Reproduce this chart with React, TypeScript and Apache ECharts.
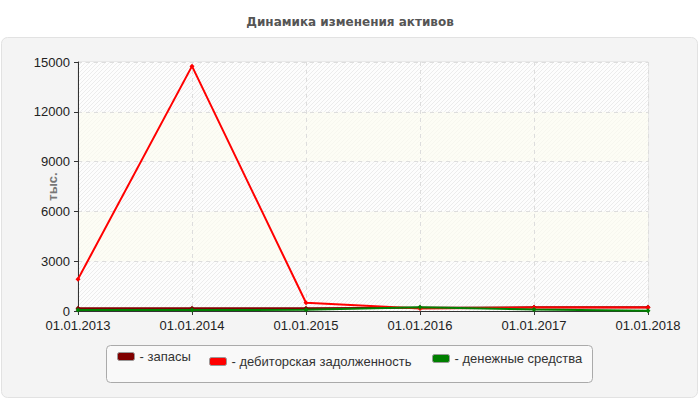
import React, { useEffect, useRef } from 'react';
import * as echarts from 'echarts';

// Dates on the x axis
const dates = ['01.01.2013', '01.01.2014', '01.01.2015', '01.01.2016', '01.01.2017', '01.01.2018'];

// Values, thousands
const zapasy = [170, 170, 170, 200, 220, 230];
const debitorka = [1920, 14750, 500, 150, 210, 210];
const dengi = [60, 60, 70, 230, 90, 10];

const seriesNames = ['запасы', 'дебиторская задолженность', 'денежные средства'];
const seriesColors = ['#800000', '#ff0000', '#008000'];

// Diagonal hatch used for the plot bands
function makeHatch(base: string, line: string) {
  const c = document.createElement('canvas');
  c.width = 4;
  c.height = 4;
  const ctx = c.getContext('2d')!;
  ctx.fillStyle = base;
  ctx.fillRect(0, 0, 4, 4);
  ctx.strokeStyle = line;
  ctx.lineWidth = 1;
  ctx.beginPath();
  ctx.moveTo(0, 4);
  ctx.lineTo(4, 0);
  ctx.moveTo(-1, 1);
  ctx.lineTo(1, -1);
  ctx.moveTo(3, 5);
  ctx.lineTo(5, 3);
  ctx.stroke();
  return { image: c, repeat: 'repeat' };
}

export default function App() {
  const chartRef = useRef<HTMLDivElement>(null);

  useEffect(() => {
    if (!chartRef.current) return;
    const chart = echarts.init(chartRef.current, undefined, { renderer: 'svg' });

    const hatch = makeHatch('#fdfdfd', '#ececec');
    const yellow = makeHatch('#fdfdf5', '#f7f7ef');

    const legendAt = (name: string, left: number, top: number) => ({
      data: [name],
      left,
      top,
      padding: 0,
      icon: 'roundRect',
      itemWidth: 17,
      itemHeight: 8,
      itemStyle: { borderColor: '#999', borderWidth: 1 },
      formatter: '- {name}',
      textStyle: { fontSize: 13, color: '#333', fontFamily: 'Liberation Sans, Arial, sans-serif' },
      selectedMode: false,
    });

    chart.setOption({
      animation: false,
      backgroundColor: '#fff',
      textStyle: { fontFamily: 'Liberation Sans, Arial, sans-serif' },
      title: {
        text: 'Динамика изменения активов',
        left: 'center',
        top: 16,
        padding: 0,
        textStyle: { fontSize: 12, fontWeight: 'bold', color: '#555', fontFamily: 'DejaVu Sans, Verdana, sans-serif' },
      },
      graphic: [
        {
          type: 'rect',
          z: -2,
          shape: { x: 1.5, y: 37.5, width: 696, height: 360, r: 6 },
          style: { fill: '#f4f4f4', stroke: '#e2e2e2', lineWidth: 1 },
        },
        {
          type: 'rect',
          z: -1,
          shape: { x: 106.5, y: 345.5, width: 486, height: 37, r: 4 },
          style: { fill: '#f9f9f9', stroke: '#aaa', lineWidth: 1 },
        },
      ],
      legend: [
        legendAt(seriesNames[0], 117, 350),
        legendAt(seriesNames[1], 209, 355),
        legendAt(seriesNames[2], 432, 352),
      ],
      grid: {
        left: 78,
        right: 52,
        top: 62,
        bottom: 89,
        show: true,
        backgroundColor: 'transparent',
        borderColor: '#ddd',
        borderWidth: 1,
      },
      xAxis: {
        type: 'category',
        data: dates,
        boundaryGap: false,
        axisLine: { lineStyle: { color: '#333', width: 1 } },
        axisTick: { show: true, length: 4, lineStyle: { color: '#333' } },
        axisLabel: { color: '#222', fontSize: 13, margin: 8 },
        splitLine: { show: true, lineStyle: { color: '#ddd', type: [4, 4] } },
      },
      yAxis: {
        type: 'value',
        min: 0,
        max: 15000,
        interval: 3000,
        name: 'тыс.',
        nameLocation: 'middle',
        nameGap: 19,
        nameMoveOverlap: false,
        nameTextStyle: { color: '#777', fontSize: 13, fontWeight: 'bold' },
        axisLine: { show: true, lineStyle: { color: '#333', width: 1 } },
        axisTick: { show: true, length: 4, lineStyle: { color: '#333' } },
        axisLabel: { color: '#222', fontSize: 13, margin: 8, formatter: (v: number) => String(v) },
        splitLine: { show: true, lineStyle: { color: '#ddd', type: [4, 4] } },
        splitArea: { show: true, areaStyle: { color: [hatch, yellow] } },
      },
      series: [zapasy, debitorka, dengi].map((data, i) => ({
        name: seriesNames[i],
        type: 'line',
        data,
        symbol: 'diamond',
        symbolSize: 5,
        showSymbol: true,
        color: seriesColors[i],
        lineStyle: { width: 2, color: seriesColors[i] },
        itemStyle: { color: seriesColors[i] },
      })),
    });

    return () => chart.dispose();
  }, []);

  return (
    <div style={{ position: 'absolute', left: 0, top: 0, width: 700, height: 400 }}>
      <div ref={chartRef} style={{ width: 700, height: 400 }} />
    </div>
  );
}
